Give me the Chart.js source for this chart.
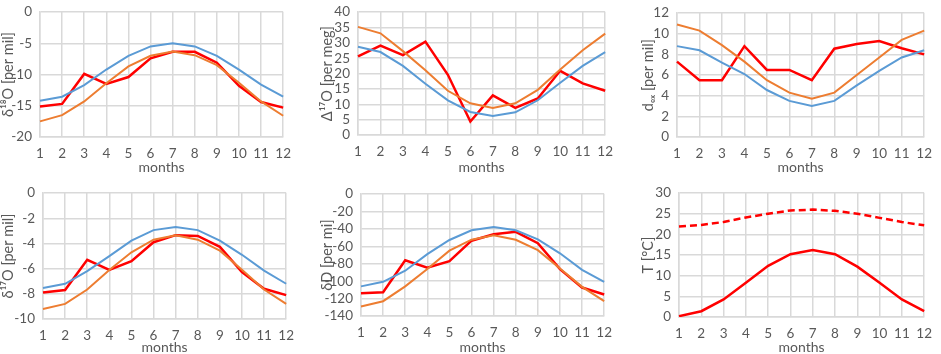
<!DOCTYPE html>
<html>
<head>
<meta charset="utf-8">
<script src="https://cdn.jsdelivr.net/npm/chart.js@4"></script>
<style>
  html, body { margin: 0; padding: 0; background: #fff; }
  body { width: 941px; height: 354px; position: relative; overflow: hidden; }
  .panel { position: absolute; }
</style>
</head>
<body>
<div class="panel" id="p1" style="left:0px;top:-4px;width:300px;height:180px"><canvas id="c1"></canvas></div>
<div class="panel" id="p2" style="left:319px;top:-4px;width:303px;height:180px"><canvas id="c2"></canvas></div>
<div class="panel" id="p3" style="left:640px;top:-3px;width:301px;height:179px"><canvas id="c3"></canvas></div>
<div class="panel" id="p4" style="left:0px;top:177px;width:303px;height:179px"><canvas id="c4"></canvas></div>
<div class="panel" id="p5" style="left:319px;top:178px;width:302px;height:178px"><canvas id="c5"></canvas></div>
<div class="panel" id="p6" style="left:640px;top:177px;width:301px;height:179px"><canvas id="c6"></canvas></div>
<script>
"use strict";
const months = ["1", "2", "3", "4", "5", "6", "7", "8", "9", "10", "11", "12"];

// d18O [per mil]
const d18oBlue = [-14.2, -13.55, -11.7, -9.2, -7.0, -5.5, -5.0, -5.5, -7.0, -9.2, -11.6, -13.55];
const d18oOrange = [-17.5, -16.5, -14.3, -11.4, -8.7, -7.0, -6.3, -6.9, -8.5, -11.3, -14.3, -16.6];
const d18oRed = [-15.1, -14.7, -9.9, -11.5, -10.4, -7.4, -6.35, -6.35, -8.1, -11.8, -14.4, -15.3];

// D17O [per meg]
const D17oBlue = [28.7, 27.0, 22.5, 16.7, 11.3, 7.5, 6.2, 7.4, 11.3, 17.0, 22.5, 27.0];
const D17oOrange = [35.2, 33.1, 27.3, 21.1, 14.4, 10.3, 8.8, 10.3, 14.7, 21.3, 27.6, 33.0];
const D17oRed = [25.6, 29.1, 26.0, 30.4, 19.6, 4.4, 12.9, 8.8, 11.9, 20.9, 16.8, 14.4];

// d-excess [per mil]
const dexBlue = [8.8, 8.4, 7.2, 6.1, 4.55, 3.5, 3.0, 3.5, 5.0, 6.4, 7.7, 8.4];
const dexOrange = [10.9, 10.3, 8.9, 7.3, 5.5, 4.3, 3.7, 4.3, 6.0, 7.7, 9.4, 10.3];
const dexRed = [7.3, 5.5, 5.5, 8.8, 6.5, 6.5, 5.5, 8.55, 9.0, 9.3, 8.6, 8.0];

// d17O [per mil]
const d17oBlue = [-7.54, -7.2, -6.2, -5.0, -3.77, -2.94, -2.69, -2.94, -3.77, -4.9, -6.16, -7.2];
const d17oOrange = [-9.2, -8.8, -7.66, -6.1, -4.7, -3.7, -3.35, -3.7, -4.57, -6.08, -7.66, -8.8];
const d17oRed = [-7.9, -7.7, -5.3, -6.1, -5.4, -3.9, -3.34, -3.4, -4.27, -6.28, -7.6, -8.1];

// dD [per mil]
const dDBlue = [-106, -100.7, -88, -69, -52.7, -41.5, -37.8, -41.5, -52, -68, -87, -100.7];
const dDOrange = [-129, -123, -106, -86, -65, -52.4, -47.3, -52.4, -64.4, -85.5, -106.5, -123];
const dDRed = [-114, -112.7, -76, -84.4, -77, -53.5, -46.2, -43.3, -56.4, -86.2, -107.3, -115.3];

// T [°C]
const tempHigh = [21.9, 22.3, 23.0, 24.1, 25.0, 25.8, 26.0, 25.7, 25.0, 24.0, 23.0, 22.2];
const tempLow = [0.2, 1.4, 4.25, 8.3, 12.4, 15.2, 16.2, 15.2, 12.2, 8.3, 4.25, 1.4];

const BLUE = "#5B9BD5";
const ORANGE = "#ED7D31";
const RED = "#FF0000";
const TEXT = "#595959";
const GRID = "#D9D9D9";
const FONT = "Lato, 'Open Sans', sans-serif";

function line(data, color, width, dash) {
  return {
    data: data,
    borderColor: color,
    backgroundColor: color,
    borderWidth: width,
    borderDash: dash || [],
    pointRadius: 0,
    tension: 0,
    fill: false
  };
}

function makePanel(id, datasets, yTitle, yMin, yMax, yStep, yWidth, xHeight, padRight) {
  new Chart(document.getElementById(id), {
    type: "line",
    data: { labels: months, datasets: datasets },
    options: {
      responsive: true,
      maintainAspectRatio: false,
      animation: false,
      layout: { padding: { top: 10, right: padRight, bottom: 0, left: 0 } },
      plugins: { legend: { display: false }, tooltip: { enabled: false } },
      scales: {
        x: {
          grid: { color: GRID, lineWidth: 1.5, drawTicks: false },
          border: { color: GRID, width: 1.5 },
          ticks: { color: TEXT, font: { family: FONT, size: 13.5 }, padding: 9, maxRotation: 0, autoSkip: false },
          title: { display: true, text: "months", color: TEXT, font: { family: FONT, size: 14 }, padding: 0 },
          afterFit: function (s) { s.height = xHeight; }
        },
        y: {
          min: yMin,
          max: yMax,
          grid: { color: GRID, lineWidth: 1.5, drawTicks: false },
          border: { color: GRID, width: 1.5 },
          ticks: { color: TEXT, font: { family: FONT, size: 13.5 }, padding: 8, stepSize: yStep, autoSkip: false },
          title: { display: true, text: yTitle, color: TEXT, font: { family: FONT, size: 14.5 }, padding: 0 },
          afterFit: function (s) { s.width = yWidth; }
        }
      }
    }
  });
}

makePanel("c1", [line(d18oBlue, BLUE, 2), line(d18oOrange, ORANGE, 2), line(d18oRed, RED, 2.5)],
  "δ¹⁸O [per mil]", -20, 0, 5, 40, 39, 10);
makePanel("c2", [line(D17oBlue, BLUE, 2), line(D17oOrange, ORANGE, 2), line(D17oRed, RED, 2.5)],
  "Δ¹⁷O [per meg]", 0, 40, 5, 39, 41, 10);
makePanel("c3", [line(dexBlue, BLUE, 2), line(dexOrange, ORANGE, 2), line(dexRed, RED, 2.5)],
  "dₑₓ [per mil]", 0, 12, 2, 37, 39, 10);
makePanel("c4", [line(d17oBlue, BLUE, 2), line(d17oOrange, ORANGE, 2), line(d17oRed, RED, 2.5)],
  "δ¹⁷O [per mil]", -10, 0, 2, 43, 37, 10);
makePanel("c5", [line(dDBlue, BLUE, 2), line(dDOrange, ORANGE, 2), line(dDRed, RED, 2.5)],
  "δD [per mi]", -140, 0, 20, 42, 40, 10);
makePanel("c6", [line(tempHigh, RED, 2.5, [7, 4]), line(tempLow, RED, 2.5)],
  "T [°C]", 0, 30, 5, 39, 39, 9);
</script>
</body>
</html>
